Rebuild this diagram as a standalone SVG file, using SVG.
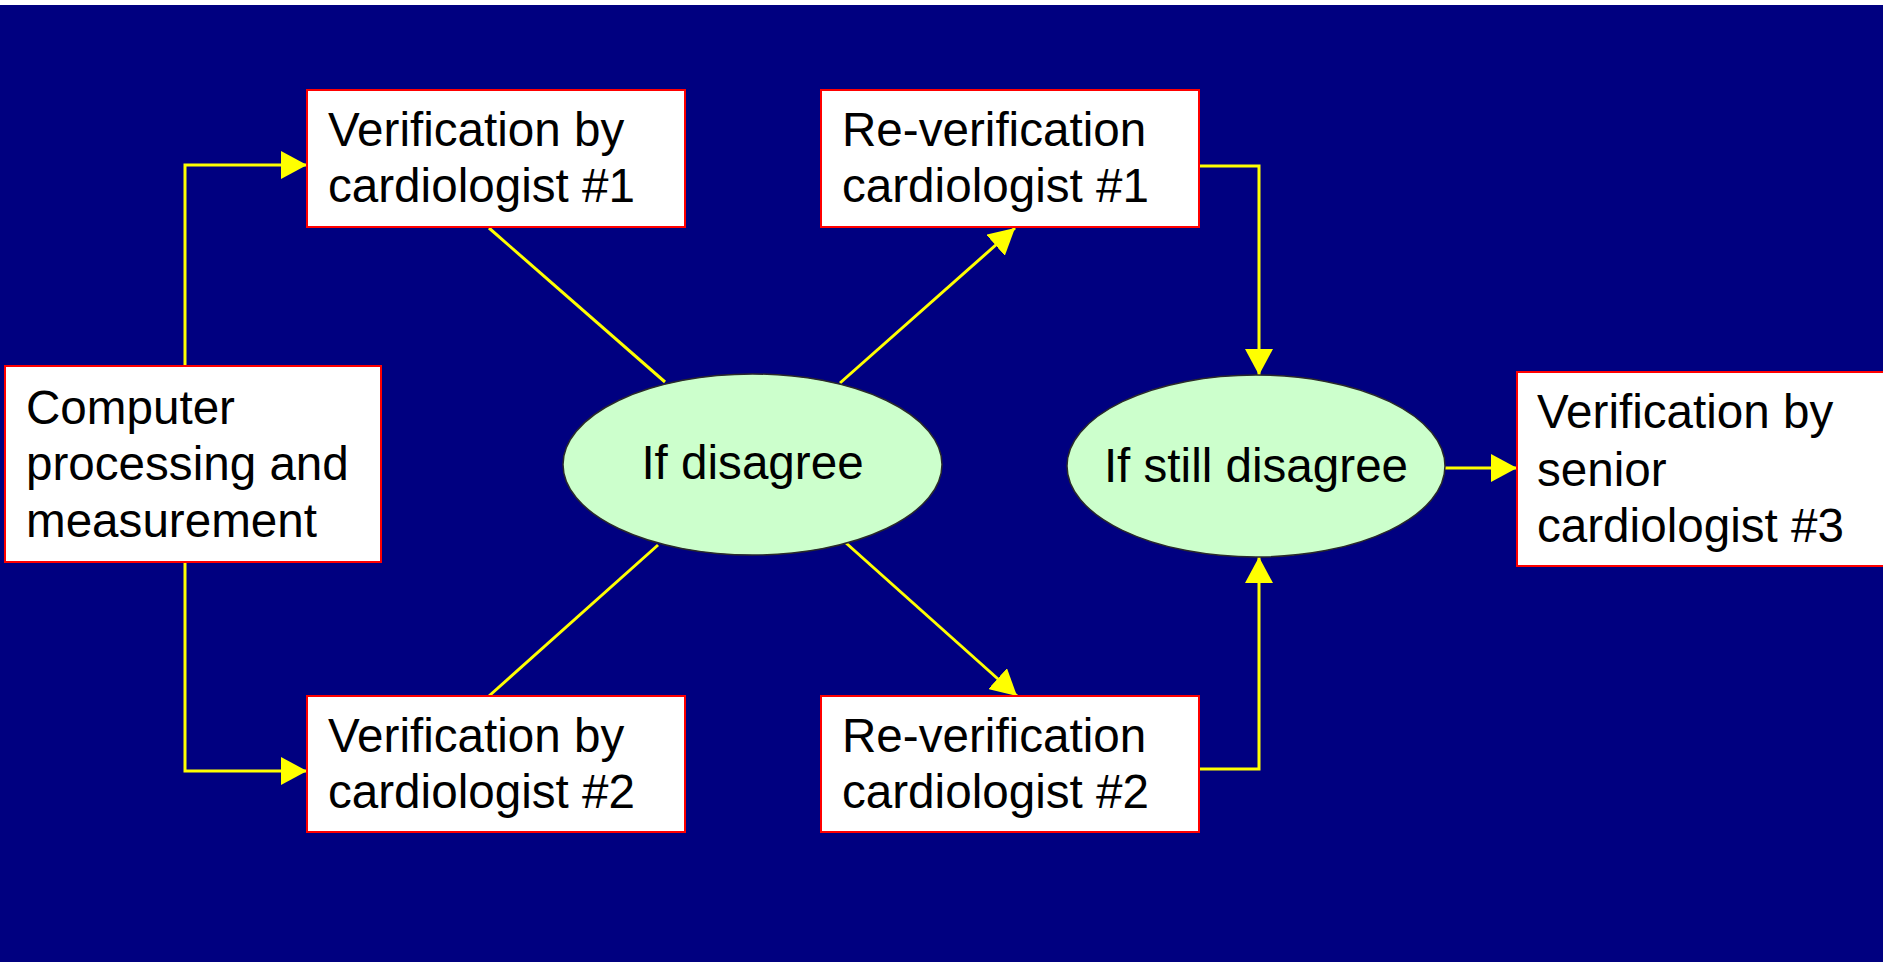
<svg xmlns="http://www.w3.org/2000/svg" width="1883" height="962" viewBox="0 0 1883 962">
<style>
.box{fill:#ffffff;stroke:#ff0000;stroke-width:2}
.ell{fill:#ccffcc;stroke:#2a2a2a;stroke-width:1.5}
.t{font-family:"Liberation Sans",Arial,sans-serif;font-size:47.6px;fill:#000000}
.c{fill:none;stroke:#ffff00;stroke-width:3}
</style>
<defs>
<marker id="ah" markerUnits="userSpaceOnUse" markerWidth="26" markerHeight="28" viewBox="0 0 26 28" refX="26" refY="14" orient="auto">
<path d="M0,0 L26,14 L0,28 Z" fill="#ffff00"/>
</marker>
</defs>
<rect x="0" y="0" width="1883" height="962" fill="#000080"/>
<rect x="0" y="0" width="1883" height="5" fill="#ffffff"/>
<g id="connectors">
<path class="c" d="M185,366 V165 H307" marker-end="url(#ah)"/>
<path class="c" d="M185,562 V771 H307" marker-end="url(#ah)"/>
<path class="c" d="M489,228 L665,382"/>
<path class="c" d="M658,545 L489,696"/>
<path class="c" d="M840,383 L1015,228" marker-end="url(#ah)"/>
<path class="c" d="M846,543 L1017,696" marker-end="url(#ah)"/>
<path class="c" d="M1199,166 H1259 V375" marker-end="url(#ah)"/>
<path class="c" d="M1199,769 H1259 V557" marker-end="url(#ah)"/>
<path class="c" d="M1445,468 H1517" marker-end="url(#ah)"/>
</g>
<g id="computer">
<rect class="box" x="5" y="366" width="376" height="196"/>
<text class="t" x="26" y="424">Computer</text>
<text class="t" x="26" y="480">processing and</text>
<text class="t" x="26" y="537">measurement</text>
</g>
<g id="verif1">
<rect class="box" x="307" y="90" width="378" height="137"/>
<text class="t" x="328" y="146">Verification by</text>
<text class="t" x="328" y="202">cardiologist #1</text>
</g>
<g id="verif2">
<rect class="box" x="307" y="696" width="378" height="136"/>
<text class="t" x="328" y="752">Verification by</text>
<text class="t" x="328" y="808">cardiologist #2</text>
</g>
<g id="disagree">
<ellipse class="ell" cx="752.5" cy="464.5" rx="189.5" ry="90.5"/>
<text class="t" x="752.5" y="479" text-anchor="middle">If disagree</text>
</g>
<g id="reverif1">
<rect class="box" x="821" y="90" width="378" height="137"/>
<text class="t" x="842" y="146">Re-verification</text>
<text class="t" x="842" y="202">cardiologist #1</text>
</g>
<g id="reverif2">
<rect class="box" x="821" y="696" width="378" height="136"/>
<text class="t" x="842" y="752">Re-verification</text>
<text class="t" x="842" y="808">cardiologist #2</text>
</g>
<g id="stilldisagree">
<ellipse class="ell" cx="1256" cy="466" rx="189" ry="91"/>
<text class="t" x="1256" y="482" text-anchor="middle">If still disagree</text>
</g>
<g id="senior">
<rect class="box" x="1517" y="372" width="380" height="194"/>
<text class="t" x="1537" y="428">Verification by</text>
<text class="t" x="1537" y="486">senior</text>
<text class="t" x="1537" y="542">cardiologist #3</text>
</g>
</svg>
